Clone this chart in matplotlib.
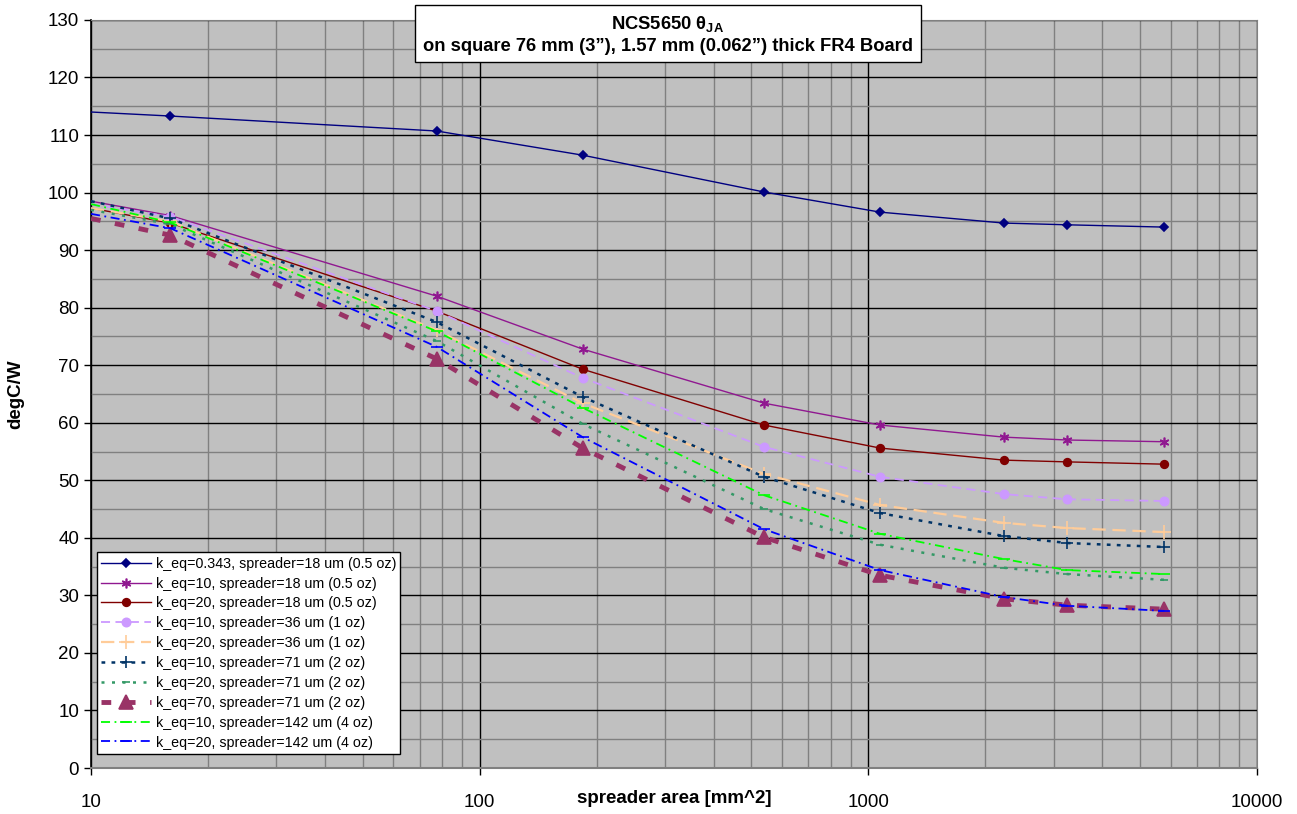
import matplotlib
matplotlib.use("Agg")
import matplotlib.pyplot as plt
from matplotlib.ticker import FixedLocator, NullFormatter

plt.rcParams['font.family'] = ['Liberation Sans', 'DejaVu Sans']
plt.rcParams['mathtext.fontset'] = 'custom'
plt.rcParams['mathtext.rm'] = 'Liberation Sans:bold'
plt.rcParams['mathtext.bf'] = 'Liberation Sans:bold'

# spreader area [mm^2] (first point is the curve start at the left edge)
area = [10, 16, 77.5, 184, 539, 1072, 2233, 3245, 5776]

s_k0343_18 = [114.0, 113.3, 110.7, 106.5, 100.1, 96.6, 94.7, 94.4, 94.0]
s_k10_18 = [98.5, 96.0, 82.0, 72.8, 63.4, 59.6, 57.5, 57.0, 56.7]
s_k20_18 = [97.3, 94.7, 79.4, 69.3, 59.6, 55.6, 53.5, 53.2, 52.8]
s_k10_36 = [98.0, 95.8, 79.4, 67.8, 55.8, 50.6, 47.6, 46.7, 46.4]
s_k20_36 = [97.3, 95.0, 76.1, 63.4, 51.1, 45.7, 42.6, 41.7, 41.0]
s_k10_71 = [98.5, 95.5, 77.5, 64.5, 50.6, 44.3, 40.3, 39.1, 38.4]
s_k20_71 = [97.0, 94.5, 74.2, 59.8, 45.0, 38.8, 34.8, 33.7, 32.7]
s_k70_71 = [95.5, 92.6, 71.1, 55.6, 40.1, 33.5, 29.4, 28.3, 27.6]
s_k10_142 = [98.0, 94.8, 75.9, 62.6, 47.4, 40.7, 36.3, 34.4, 33.7]
s_k20_142 = [96.3, 93.8, 73.2, 57.5, 41.5, 34.4, 29.7, 28.2, 27.3]

labels = [
    'k_eq=0.343, spreader=18 um (0.5 oz)',
    'k_eq=10, spreader=18 um (0.5 oz)',
    'k_eq=20, spreader=18 um (0.5 oz)',
    'k_eq=10, spreader=36 um (1 oz)',
    'k_eq=20, spreader=36 um (1 oz)',
    'k_eq=10, spreader=71 um (2 oz)',
    'k_eq=20, spreader=71 um (2 oz)',
    'k_eq=70, spreader=71 um (2 oz)',
    'k_eq=10, spreader=142 um (4 oz)',
    'k_eq=20, spreader=142 um (4 oz)',
]
series = [s_k0343_18, s_k10_18, s_k20_18, s_k10_36, s_k20_36,
          s_k10_71, s_k20_71, s_k70_71, s_k10_142, s_k20_142]

# color, linestyle, linewidth, marker, markersize
styles = [
    ('#000080', '-', 1.0, 'D', 4),
    ('#901890', '-', 1.0, (6, 2, 0), 7),
    ('#800000', '-', 1.0, 'o', 5.5),
    ('#CC99FF', (0, (5, 3)), 1.3, 'o', 6),
    ('#FFCC99', (0, (6, 3)), 1.6, '+', 10),
    ('#003366', (0, (1.5, 2.5)), 1.8, '+', 9),
    ('#339966', (0, (1.2, 3)), 1.8, '_', 6),
    ('#993366', (0, (2, 3)), 3.5, '^', 10),
    ('#00FF00', (0, (5, 2.5, 1, 2.5)), 1.3, '_', 8),
    ('#0000FF', (0, (5, 2.5, 1, 2.5)), 1.3, '_', 8),
]

fig = plt.figure(figsize=(12.97, 8.14), dpi=100)
ax = fig.add_axes([0.0702, 0.0565, 0.899, 0.919])
ax.set_facecolor('#C0C0C0')

for vals, lab, (c, ls, lw, mk, ms) in zip(series, labels, styles):
    ax.plot(area, vals, color=c, linestyle=ls, linewidth=lw, marker=mk,
            markersize=ms, markevery=slice(1, None), markeredgewidth=1.2,
            label=lab, zorder=3)

ax.set_xscale('log')
ax.set_xlim(10, 10000)
ax.set_ylim(0, 130)
ax.set_yticks(range(0, 131, 10))
ax.yaxis.set_minor_locator(FixedLocator(range(5, 130, 10)))
ax.xaxis.set_major_locator(FixedLocator([10, 100, 1000, 10000]))
ax.set_xticklabels(['10', '100', '1000', '10000'])
ax.xaxis.set_minor_formatter(NullFormatter())

ax.grid(True, which='major', color='#000000', linewidth=1.0, zorder=1)
ax.grid(True, which='minor', color='#808080', linewidth=1.0, zorder=1)
ax.set_axisbelow(True)

ax.tick_params(which='major', direction='out', length=5, width=1, labelsize=13.5)
ax.tick_params(axis='x', which='major', pad=14)
ax.tick_params(which='minor', length=0)

for side in ['top', 'right']:
    ax.spines[side].set_color('#808080')
ax.spines['left'].set_linewidth(1.2)
ax.spines['bottom'].set_color('#808080')
ax.spines['bottom'].set_linewidth(1.5)

ax.set_xlabel('spreader area [mm^2]', fontsize=13.5, fontweight='bold')
ax.xaxis.set_label_coords(0.5, -0.03)
ax.set_ylabel('degC/W', fontsize=13.5, fontweight='bold')
ax.yaxis.set_label_coords(-0.057, 0.5)

leg = ax.legend(loc='lower left', bbox_to_anchor=(0.005, 0.019), fontsize=10.3,
                frameon=True, fancybox=False, framealpha=1, edgecolor='black',
                handlelength=3.5, labelspacing=0.41, borderpad=0.3,
                handletextpad=0.3, borderaxespad=0)
leg.get_frame().set_linewidth(1.0)
leg.set_zorder(5)

fig.text(0.515, 0.958,
         'NCS5650 \u03b8$_{\\mathrm{JA}}$\non square 76 mm (3\u201d), 1.57 mm (0.062\u201d) thick FR4 Board',
         ha='center', va='center', fontsize=13.2, fontweight='bold',
         linespacing=1.3,
         bbox=dict(boxstyle='square,pad=0.42', facecolor='white',
                   edgecolor='black', linewidth=1.0), zorder=10)

fig.savefig('out.png', dpi=100)
